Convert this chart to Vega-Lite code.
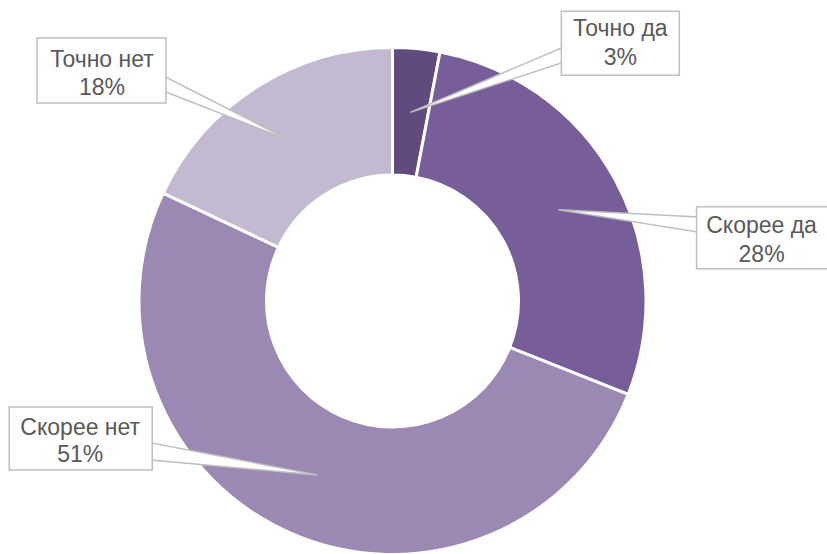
{
  "$schema": "https://vega.github.io/schema/vega-lite/v6.json",
  "width": 785,
  "height": 506,
  "autosize": {"type": "none"},
  "padding": {"left": 0, "top": 48, "right": 42, "bottom": 0},
  "background": "white",
  "config": {"view": {"stroke": null}},
  "data": {
    "values": [
      {"cat": "Точно да", "pct": 0.03},
      {"cat": "Скорее да", "pct": 0.28},
      {"cat": "Скорее нет", "pct": 0.51},
      {"cat": "Точно нет", "pct": 0.18}
    ]
  },
  "transform": [
    {"stack": "pct", "groupby": [], "as": ["s0", "s1"]},
    {"calculate": "189.5*sin(PI*(datum.s0+datum.s1))", "as": "tx"},
    {"calculate": "189.5*cos(PI*(datum.s0+datum.s1))", "as": "ty"}
  ],
  "layer": [
    {
      "mark": {"type": "arc", "innerRadius": 126, "outerRadius": 253.5, "stroke": "white", "strokeWidth": 3},
      "encoding": {
        "theta": {"field": "s0", "type": "quantitative", "scale": {"domain": [0, 1]}, "stack": null},
        "theta2": {"field": "s1"},
        "color": {
          "field": "cat", "type": "nominal", "legend": null,
          "scale": {
            "domain": ["Точно да", "Скорее да", "Скорее нет", "Точно нет"],
            "range": ["#614a7e", "#775e98", "#9b89b3", "#c3b9d1"]
          }
        }
      }
    },
    {
      "encoding": {
        "x": {"field": "tx", "type": "quantitative", "axis": null, "scale": {"domain": [-392.5, 392.5], "nice": false, "zero": false}},
        "y": {"field": "ty", "type": "quantitative", "axis": null, "scale": {"domain": [-253, 253], "nice": false, "zero": false}}
      },
      "layer": [
        {
          "transform": [{"filter": {"field": "cat", "equal": "Точно да"}}],
          "mark": {"type": "arc", "theta": 1.168, "theta2": 1.255, "outerRadius": 170, "innerRadius": 0, "fill": "white", "stroke": "#bfbfbf", "strokeWidth": 1.5}
        },
        {
          "transform": [{"filter": {"field": "cat", "equal": "Точно да"}}],
          "mark": {"type": "rect", "fill": "white", "stroke": "#bfbfbf", "strokeWidth": 1.5, "xOffset": 151, "x2Offset": 269, "yOffset": -101, "y2Offset": -37},
          "encoding": {"x2": {"field": "tx"}, "y2": {"field": "ty"}}
        },
        {
          "transform": [{"filter": {"field": "cat", "equal": "Точно да"}}],
          "mark": {"type": "text", "font": "Liberation Sans", "fontSize": 23, "fill": "#595959", "align": "center", "baseline": "alphabetic", "dx": 210, "dy": -76},
          "encoding": {"text": {"field": "cat"}}
        },
        {
          "transform": [{"filter": {"field": "cat", "equal": "Точно да"}}],
          "mark": {"type": "text", "font": "Liberation Sans", "fontSize": 23, "fill": "#595959", "align": "center", "baseline": "alphabetic", "dx": 210, "dy": -47},
          "encoding": {"text": {"field": "pct", "format": ".0%"}}
        },
        {
          "transform": [{"filter": {"field": "cat", "equal": "Скорее да"}}],
          "mark": {"type": "arc", "theta": 1.623, "theta2": 1.73, "outerRadius": 150, "innerRadius": 0, "fill": "white", "stroke": "#bfbfbf", "strokeWidth": 1.5}
        },
        {
          "transform": [{"filter": {"field": "cat", "equal": "Скорее да"}}],
          "mark": {"type": "rect", "fill": "white", "stroke": "#bfbfbf", "strokeWidth": 1.5, "xOffset": 138, "x2Offset": 272, "yOffset": -3, "y2Offset": 59},
          "encoding": {"x2": {"field": "tx"}, "y2": {"field": "ty"}}
        },
        {
          "transform": [{"filter": {"field": "cat", "equal": "Скорее да"}}],
          "mark": {"type": "text", "font": "Liberation Sans", "fontSize": 23, "fill": "#595959", "align": "center", "baseline": "alphabetic", "dx": 203, "dy": 23},
          "encoding": {"text": {"field": "cat"}}
        },
        {
          "transform": [{"filter": {"field": "cat", "equal": "Скорее да"}}],
          "mark": {"type": "text", "font": "Liberation Sans", "fontSize": 23, "fill": "#595959", "align": "center", "baseline": "alphabetic", "dx": 203, "dy": 52},
          "encoding": {"text": {"field": "pct", "format": ".0%"}}
        },
        {
          "transform": [{"filter": {"field": "cat", "equal": "Скорее нет"}}],
          "mark": {"type": "arc", "theta": 4.802, "theta2": 4.903, "outerRadius": 175, "innerRadius": 0, "fill": "white", "stroke": "#bfbfbf", "strokeWidth": 1.5}
        },
        {
          "transform": [{"filter": {"field": "cat", "equal": "Скорее нет"}}],
          "mark": {"type": "rect", "fill": "white", "stroke": "#bfbfbf", "strokeWidth": 1.5, "xOffset": -308, "x2Offset": -165, "yOffset": -68, "y2Offset": -5},
          "encoding": {"x2": {"field": "tx"}, "y2": {"field": "ty"}}
        },
        {
          "transform": [{"filter": {"field": "cat", "equal": "Скорее нет"}}],
          "mark": {"type": "text", "font": "Liberation Sans", "fontSize": 23, "fill": "#595959", "align": "center", "baseline": "alphabetic", "dx": -237, "dy": -40},
          "encoding": {"text": {"field": "cat"}}
        },
        {
          "transform": [{"filter": {"field": "cat", "equal": "Скорее нет"}}],
          "mark": {"type": "text", "font": "Liberation Sans", "fontSize": 23, "fill": "#595959", "align": "center", "baseline": "alphabetic", "dx": -237, "dy": -13},
          "encoding": {"text": {"field": "pct", "format": ".0%"}}
        },
        {
          "transform": [{"filter": {"field": "cat", "equal": "Точно нет"}}],
          "mark": {"type": "arc", "theta": 5.086, "theta2": 5.185, "outerRadius": 150, "innerRadius": 0, "fill": "white", "stroke": "#bfbfbf", "strokeWidth": 1.5}
        },
        {
          "transform": [{"filter": {"field": "cat", "equal": "Точно нет"}}],
          "mark": {"type": "rect", "fill": "white", "stroke": "#bfbfbf", "strokeWidth": 1.5, "xOffset": -254, "x2Offset": -125, "yOffset": -103, "y2Offset": -38},
          "encoding": {"x2": {"field": "tx"}, "y2": {"field": "ty"}}
        },
        {
          "transform": [{"filter": {"field": "cat", "equal": "Точно нет"}}],
          "mark": {"type": "text", "font": "Liberation Sans", "fontSize": 23, "fill": "#595959", "align": "center", "baseline": "alphabetic", "dx": -189, "dy": -74},
          "encoding": {"text": {"field": "cat"}}
        },
        {
          "transform": [{"filter": {"field": "cat", "equal": "Точно нет"}}],
          "mark": {"type": "text", "font": "Liberation Sans", "fontSize": 23, "fill": "#595959", "align": "center", "baseline": "alphabetic", "dx": -189, "dy": -46},
          "encoding": {"text": {"field": "pct", "format": ".0%"}}
        }
      ]
    }
  ]
}
